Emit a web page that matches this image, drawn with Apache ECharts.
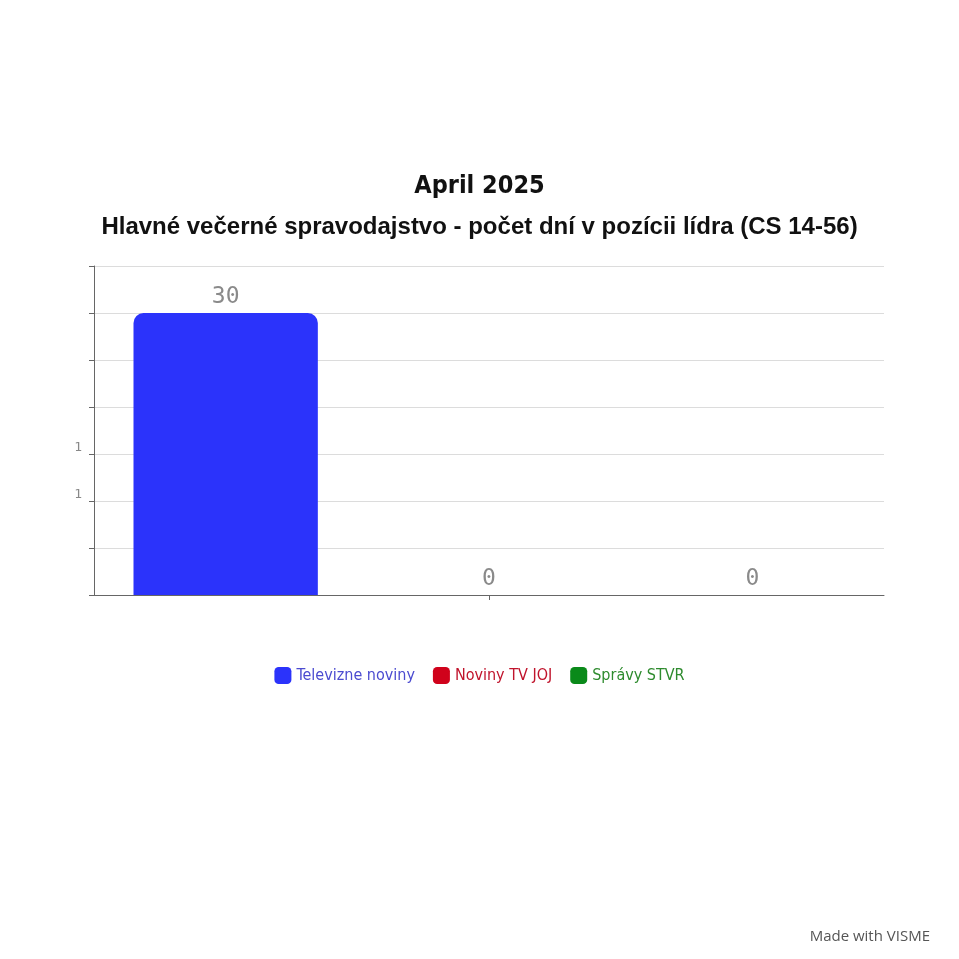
<!DOCTYPE html>
<html>
<head>
<meta charset="utf-8">
<script src="https://cdn.jsdelivr.net/npm/echarts@6/dist/echarts.min.js"></script>
<style>
html,body{margin:0;padding:0;background:#fff;}
#c{width:959px;height:959px;}
</style>
</head>
<body>
<div id="c"></div>
<script>
var categories = ["Televízne noviny", "Noviny TV JOJ", "Správy STVR"];
var seriesNames = ["Televizne noviny", "Noviny TV JOJ", "Správy STVR"];
var values = [30, 0, 0];
var colors = ["#2b33fb", "#d0021b", "#0a8a1a"];
var textColors = ["#4b4bd0", "#c0142c", "#2e8b2e"];
var yTickLabels = {10: "1", 15: "1"};

var condensed = "'DejaVu Sans Condensed', 'Liberation Sans Narrow', 'Roboto', sans-serif";

var chart = echarts.init(document.getElementById('c'));

var series = seriesNames.map(function (name, i) {
  var d = categories.map(function (c, j) { return j === i ? values[i] : '-'; });
  return {
    name: name,
    type: 'bar',
    stack: 'all',
    data: d,
    barWidth: '70%',
    itemStyle: { color: colors[i], borderRadius: [10, 10, 0, 0] },
    label: {
      show: true,
      position: 'top',
      distance: 4,
      color: '#8a8a8a',
      fontFamily: 'DejaVu Sans Mono',
      fontSize: 23,
      formatter: function (p) { return p.value; }
    }
  };
});

chart.setOption({
  backgroundColor: '#fff',
  animation: false,
  title: [
    {
      text: 'April 2025',
      left: 'center',
      top: 169,
      textStyle: { fontFamily: condensed, fontWeight: 'bold', fontSize: 25, color: '#111' }
    },
    {
      text: 'Hlavné večerné spravodajstvo - počet dní v pozícii lídra (CS 14-56)',
      left: 'center',
      top: 210,
      textStyle: { fontFamily: 'Liberation Sans', fontWeight: 'bold', fontSize: 24, color: '#111' }
    },
    {
      text: 'Made with VISME',
      right: 24,
      top: 924,
      textStyle: { fontFamily: 'Open Sans', fontWeight: 'normal', fontSize: 15, color: '#555' }
    }
  ],
  legend: {
    top: 662,
    left: 'center',
    itemWidth: 17,
    itemHeight: 17,
    itemGap: 18,
    icon: 'roundRect',
    data: seriesNames.map(function (n, i) {
      return { name: n, textStyle: { color: textColors[i] } };
    }),
    textStyle: { fontFamily: condensed, fontSize: 16 }
  },
  grid: { left: 94, right: 75, top: 266, height: 329 },
  xAxis: {
    type: 'category',
    data: categories,
    axisLine: { show: true, lineStyle: { color: '#666', width: 1 } },
    axisTick: {
      show: true,
      alignWithLabel: true,
      interval: function (i) { return i === 1; },
      length: 5,
      lineStyle: { color: '#666' }
    },
    axisLabel: { show: false }
  },
  yAxis: {
    type: 'value',
    min: 0,
    max: 35,
    interval: 5,
    axisLine: { show: true, lineStyle: { color: '#666', width: 1 } },
    axisTick: { show: true, length: 5, lineStyle: { color: '#666' } },
    splitLine: { show: true, lineStyle: { color: '#dcdcdc', width: 1 } },
    axisLabel: {
      show: true,
      margin: 12,
      color: '#888',
      fontFamily: 'DejaVu Sans Mono',
      fontSize: 13,
      verticalAlign: 'bottom',
      formatter: function (v) { return yTickLabels[v] || ''; }
    }
  },
  series: series
});
</script>
</body>
</html>
